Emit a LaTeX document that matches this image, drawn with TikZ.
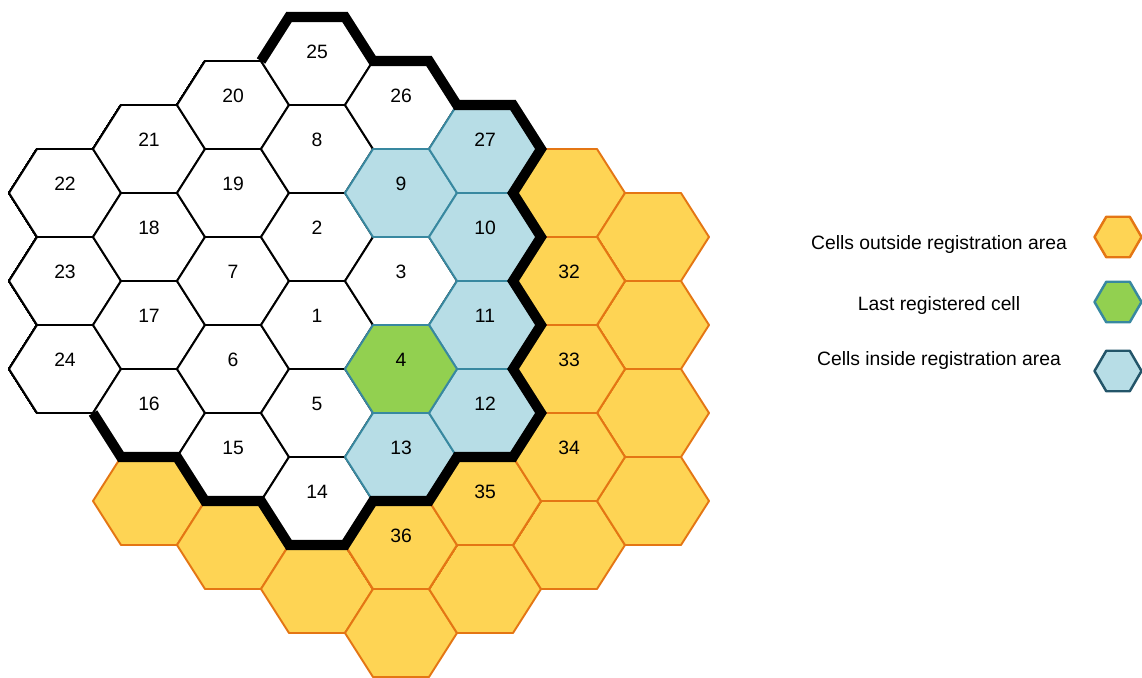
\documentclass[tikz,border=0pt]{standalone}
\usepackage{fontspec}
\setmainfont{Liberation Sans}
\definecolor{cellyellow}{RGB}{254,212,84}
\definecolor{cellorange}{RGB}{228,118,20}
\definecolor{cellblue}{RGB}{183,221,230}
\definecolor{cellteal}{RGB}{56,136,160}
\definecolor{cellgreen}{RGB}{146,208,80}
\definecolor{darkteal}{RGB}{35,85,105}
% hexagon around a centre (x,y), in pixel units
\newcommand{\hexcell}[3]{\draw[shift={(#2,#3)}, #1] (-56,0) -- (-28,-44) -- (28,-44) -- (56,0) -- (28,44) -- (-28,44) -- cycle;}
\begin{document}
\begin{tikzpicture}[x=0.02cm, y=-0.02cm, line cap=round, line join=round]
  \tikzset{
    cell_base/.style={line width=1.1pt},
    plain/.style={cell_base, draw=black, fill=white},
    outside/.style={cell_base, draw=cellorange, fill=cellyellow},
    inside/.style={cell_base, draw=cellteal, fill=cellblue},
    lastcell/.style={cell_base, draw=cellteal, fill=cellgreen},
    keyhex/.style={line width=1.4pt, xscale=0.42, yscale=0.46},
    border/.style={line width=5.7pt, line join=miter, line cap=butt},
    every node/.style={font=\fontsize{11}{13}\selectfont}
  }
  \useasboundingbox (0,0) rectangle (1142,678);
  % cells of the grid
  \foreach \x/\y in {149/501, 233/545, 317/589, 401/633, 485/589, 569/193, 569/545, 653/237, 653/325, 653/413, 653/501}
    \hexcell{outside}{\x}{\y}
  \foreach \x/\y/\n in {401/545/36, 485/501/35, 569/281/32, 569/369/33, 569/457/34} {
    \hexcell{outside}{\x}{\y}
    \node (c\n) at (\x,\y-9) {\n};
  }
  \foreach \x/\y/\n in {65/193/22, 65/281/23, 65/369/24, 149/149/21, 149/237/18, 149/325/17, 149/413/16, 233/105/20, 233/193/19, 233/281/7, 233/369/6, 233/457/15, 317/61/25, 317/149/8, 317/237/2, 317/325/1, 317/413/5, 317/501/14, 401/105/26, 401/281/3} {
    \hexcell{plain}{\x}{\y}
    \node (c\n) at (\x,\y-9) {\n};
  }
  \foreach \x/\y/\n in {401/193/9, 401/457/13, 485/149/27, 485/237/10, 485/325/11, 485/413/12} {
    \hexcell{inside}{\x}{\y}
    \node (c\n) at (\x,\y-9) {\n};
  }
  \hexcell{lastcell}{401}{369}
  \node (c4) at (401,360) {4};
  % registration area border
  \draw[border] (93,413) -- (121,457) -- (177,457) -- (205,501) -- (261,501) -- (289,545) -- (345,545) -- (373,501) -- (429,501) -- (457,457) -- (513,457) -- (541,413) -- (513,369) -- (541,325) -- (513,281) -- (541,237) -- (513,193) -- (541,149) -- (513,105) -- (457,105) -- (429,61) -- (373,61) -- (345,17) -- (289,17) -- (261,61);
  % legend
  \hexcell{keyhex, draw=cellorange, fill=cellyellow}{1118}{237}
  \hexcell{keyhex, draw=cellteal, fill=cellgreen}{1118}{302}
  \hexcell{keyhex, draw=darkteal, fill=cellblue}{1118}{371}
  \node (keyout) at (939,245) {Cells outside registration area};
  \node (keylast) at (939,306) {Last registered cell};
  \node (keyin) at (939,361) {Cells inside registration area};
\end{tikzpicture}
\end{document}
